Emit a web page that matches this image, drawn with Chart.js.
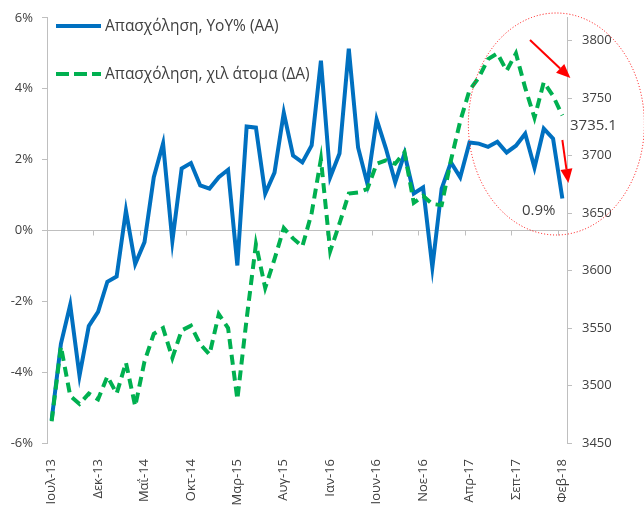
<!DOCTYPE html>
<html>
<head>
<meta charset="utf-8">
<script src="https://cdn.jsdelivr.net/npm/chart.js@4/dist/chart.umd.min.js"></script>
<style>
  html, body { margin: 0; padding: 0; background: #fff; }
  #wrap { position: relative; width: 644px; height: 509px; overflow: hidden; }
  #chart { position: absolute; left: 0; top: 0; }
  .txt { position: absolute; font-family: "Open Sans", sans-serif; color: #404040; white-space: nowrap; line-height: 1; }
  .leg { font-size: 15.5px; display: flex; align-items: center; }
  .leg svg { margin-right: 3px; }
</style>
</head>
<body>
<div id="wrap">
  <canvas id="chart" width="644" height="509"></canvas>
  <div class="txt leg" style="left:55px; top:18px;">
    <svg width="47" height="6"><line x1="1" y1="3" x2="46" y2="3" stroke="#0070C0" stroke-width="4" /></svg>
    <span>Απασχόληση, YoY% (AA)</span>
  </div>
  <div class="txt leg" style="left:55px; top:66px;">
    <svg width="47" height="6"><line x1="1" y1="3" x2="46" y2="3" stroke="#00B050" stroke-width="4" stroke-dasharray="13 5" /></svg>
    <span>Απασχόληση, χιλ άτομα (ΔΑ)</span>
  </div>
  <div class="txt" style="left:570px; top:117px; font-size:15px;">3735.1</div>
  <div class="txt" style="left:522px; top:202px; font-size:15px;">0.9%</div>
</div>
<script>
const months = [
    "Ιουλ-13", "Αυγ-13", "Σεπ-13", "Οκτ-13", "Νοε-13", "Δεκ-13",
    "Ιαν-14", "Φεβ-14", "Μαρ-14", "Απρ-14", "Μαΐ-14", "Ιουν-14", "Ιουλ-14", "Αυγ-14", "Σεπ-14", "Οκτ-14", "Νοε-14", "Δεκ-14",
    "Ιαν-15", "Φεβ-15", "Μαρ-15", "Απρ-15", "Μαΐ-15", "Ιουν-15", "Ιουλ-15", "Αυγ-15", "Σεπ-15", "Οκτ-15", "Νοε-15", "Δεκ-15",
    "Ιαν-16", "Φεβ-16", "Μαρ-16", "Απρ-16", "Μαΐ-16", "Ιουν-16", "Ιουλ-16", "Αυγ-16", "Σεπ-16", "Οκτ-16", "Νοε-16", "Δεκ-16",
    "Ιαν-17", "Φεβ-17", "Μαρ-17", "Απρ-17", "Μαΐ-17", "Ιουν-17", "Ιουλ-17", "Αυγ-17", "Σεπ-17", "Οκτ-17", "Νοε-17", "Δεκ-17",
    "Ιαν-18", "Φεβ-18"
];
// YoY % change (left axis)
const employmentYoY = [
    -5.35, -3.2, -2.1, -4.1, -2.7, -2.3, -1.45, -1.3, 0.56, -0.95, -0.33, 1.5, 2.45, -0.3,
    1.75, 1.9, 1.27, 1.18, 1.5, 1.71, -0.99, 2.93, 2.9, 1.04, 1.63, 3.32, 2.11, 1.92,
    2.4, 4.79, 1.5, 2.17, 5.13, 2.34, 1.32, 3.13, 2.31, 1.36, 2.17, 1.04, 1.21, -1.04,
    1.18, 1.92, 1.5, 2.48, 2.45, 2.36, 2.5, 2.2, 2.39, 2.73, 1.77, 2.87, 2.59, 0.9
];
// thousands of persons (right axis)
const employmentLevel = [
    3469, 3534, 3491, 3484, 3493, 3488, 3508, 3493, 3520, 3482, 3521, 3545, 3550, 3524,
    3548, 3552, 3536, 3527, 3562, 3550, 3488, 3558, 3623, 3585, 3610, 3637, 3628, 3621,
    3650, 3697, 3617, 3641, 3667, 3668, 3671, 3693, 3696, 3693, 3703, 3659, 3665, 3658,
    3657, 3696, 3730, 3757, 3768, 3784, 3789, 3774, 3789, 3759, 3733, 3764, 3752, 3735.1
];
const leftTicks = [-6, -4, -2, 0, 2, 4, 6];
const rightTicks = [3450, 3500, 3550, 3600, 3650, 3700, 3750, 3800];

const AXIS = "#bfbfbf";
const TEXT = "#404040";
const FONT = { family: "'Open Sans', sans-serif", size: 13 };

const overlay = {
    id: "overlay",
    beforeDatasetsDraw(chart) {
        const { ctx, chartArea, scales } = chart;
        const y0 = Math.round(scales.y.getPixelForValue(0)) + 0.5;
        ctx.save();
        ctx.strokeStyle = AXIS;
        ctx.lineWidth = 1;
        ctx.beginPath();
        ctx.moveTo(chartArea.left, y0);
        ctx.lineTo(chartArea.right, y0);
        for (let i = 4.5; i < months.length; i += 5) {
            const x = Math.round(scales.x.getPixelForValue(i)) + 0.5;
            ctx.moveTo(x, y0);
            ctx.lineTo(x, y0 + 5);
        }
        ctx.stroke();
        ctx.restore();
    },
    afterDraw(chart) {
        const { ctx, scales } = chart;
        const xEnd = scales.x.getPixelForValue(months.length - 1);
        ctx.save();
        // dotted ellipse
        ctx.strokeStyle = "#ff0000";
        ctx.lineWidth = 1;
        ctx.setLineDash([1, 2]);
        ctx.beginPath();
        ctx.ellipse(xEnd - 6, 124, 88, 111, 0, 0, Math.PI * 2);
        ctx.stroke();
        ctx.setLineDash([]);
        arrow(ctx, 530, 40, xEnd + 8, 78);
        arrow(ctx, xEnd, 140, xEnd + 6, 183);
        ctx.restore();
    }
};

function arrow(ctx, x1, y1, x2, y2) {
    const a = Math.atan2(y2 - y1, x2 - x1);
    const len = 14, half = 6;
    const bx = x2 - len * Math.cos(a), by = y2 - len * Math.sin(a);
    ctx.strokeStyle = "#ff0000";
    ctx.fillStyle = "#ff0000";
    ctx.lineWidth = 2;
    ctx.beginPath();
    ctx.moveTo(x1, y1);
    ctx.lineTo(bx, by);
    ctx.stroke();
    ctx.beginPath();
    ctx.moveTo(x2, y2);
    ctx.lineTo(bx + half * Math.sin(a), by - half * Math.cos(a));
    ctx.lineTo(bx - half * Math.sin(a), by + half * Math.cos(a));
    ctx.closePath();
    ctx.fill();
}

new Chart(document.getElementById("chart"), {
    type: "line",
    data: {
        labels: months,
        datasets: [
            {
                label: "Απασχόληση, YoY% (AA)",
                data: employmentYoY,
                yAxisID: "y",
                borderColor: "#0070C0",
                borderWidth: 4,
                pointRadius: 0,
                tension: 0,
                order: 1
            },
            {
                label: "Απασχόληση, χιλ άτομα (ΔΑ)",
                data: employmentLevel,
                yAxisID: "y2",
                borderColor: "#00B050",
                borderWidth: 4,
                borderDash: [10, 6],
                pointRadius: 0,
                tension: 0,
                order: 0
            }
        ]
    },
    options: {
        responsive: false,
        animation: false,
        layout: { padding: { top: 17, left: 0, right: 0, bottom: 0 } },
        plugins: { legend: { display: false }, tooltip: { enabled: false } },
        scales: {
            x: {
                offset: true,
                grid: { display: false },
                border: { display: false },
                ticks: {
                    autoSkip: false,
                    minRotation: 90,
                    maxRotation: 90,
                    padding: 8,
                    color: TEXT,
                    font: FONT,
                    callback: (v, i) => (i % 5 === 0 ? months[i] : "")
                },
                afterFit: s => { s.height = 66; }
            },
            y: {
                position: "left",
                min: leftTicks[0],
                max: leftTicks[leftTicks.length - 1],
                grid: { drawOnChartArea: false, tickLength: 5, color: AXIS },
                border: { color: AXIS },
                afterBuildTicks: s => { s.ticks = leftTicks.map(value => ({ value })); },
                ticks: { padding: 9, color: TEXT, font: FONT, callback: v => v + "%" },
                afterFit: s => { s.width = 47; }
            },
            y2: {
                position: "right",
                min: rightTicks[0],
                max: 3820,
                grid: { drawOnChartArea: false, tickLength: 5, color: AXIS },
                border: { color: AXIS },
                afterBuildTicks: s => { s.ticks = rightTicks.map(value => ({ value })); },
                ticks: { padding: 10, color: TEXT, font: FONT, callback: v => String(v) },
                afterFit: s => { s.width = 77; }
            }
        }
    },
    plugins: [overlay]
});
</script>
</body>
</html>
